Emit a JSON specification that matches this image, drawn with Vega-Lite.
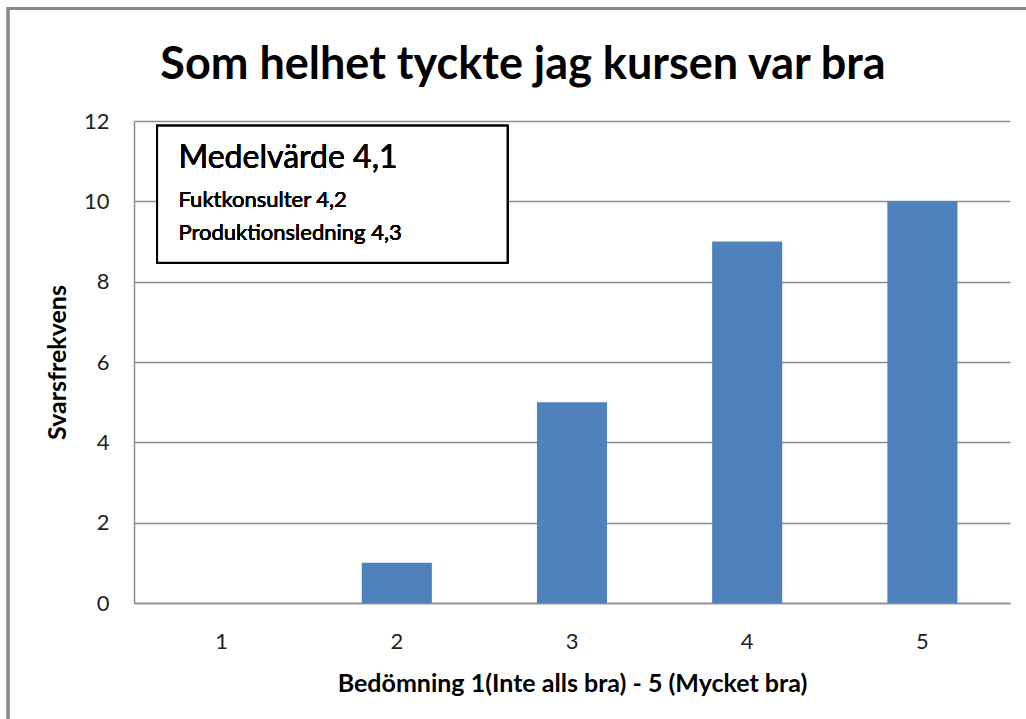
{
  "$schema": "https://vega.github.io/schema/vega-lite/v6.json",
  "width": 876,
  "height": 482,
  "autosize": {"type": "none"},
  "padding": {"left": 134, "top": 121, "right": 16, "bottom": 116},
  "background": "white",
  "config": {
    "font": "Lato",
    "view": {"stroke": null},
    "axis": {"labelFont": "Lato", "titleFont": "Lato"}
  },
  "title": {
    "text": "Som helhet tyckte jag kursen var bra",
    "font": "Lato",
    "fontSize": 45,
    "fontWeight": "bold",
    "color": "black",
    "anchor": "middle",
    "frame": "group",
    "dx": -49,
    "offset": -81
  },
  "data": {
    "values": [
      {"betyg": "1", "antal": 0},
      {"betyg": "2", "antal": 1},
      {"betyg": "3", "antal": 5},
      {"betyg": "4", "antal": 9},
      {"betyg": "5", "antal": 10}
    ]
  },
  "layer": [
    {
      "mark": {"type": "rect", "fill": null, "stroke": "#888888", "strokeWidth": 2.5},
      "encoding": {
        "x": {"datum": -0.219, "type": "quantitative", "scale": {"domain": [0.5, 5.5], "nice": false, "zero": false}, "axis": null},
        "x2": {"datum": 5.67},
        "y": {"datum": 14.81, "type": "quantitative"},
        "y2": {"datum": -3.16}
      }
    },
    {
      "mark": {"type": "bar", "color": "#4F81BD"},
      "encoding": {
        "x": {
          "field": "betyg",
          "type": "ordinal",
          "sort": ["1", "2", "3", "4", "5"],
          "scale": {"paddingInner": 0.6, "paddingOuter": 0.3},
          "axis": {
            "title": "Bedömning 1(Inte alls bra) - 5 (Mycket bra)",
            "titleFontSize": 25,
            "titleFontWeight": "bold",
            "titleColor": "black",
            "titlePadding": 19,
            "labelAngle": 0,
            "labelFontSize": 22,
            "labelColor": "#222222",
            "labelPadding": 28,
            "ticks": false,
            "domainColor": "#8c8c8c",
            "domainWidth": 1.5
          }
        },
        "y": {
          "field": "antal",
          "type": "quantitative",
          "scale": {"domain": [0, 12], "nice": false},
          "axis": {
            "title": "Svarsfrekvens",
            "titleFontSize": 25,
            "titleFontWeight": "bold",
            "titleColor": "black",
            "titlePadding": 13,
            "values": [0, 2, 4, 6, 8, 10, 12],
            "labelFontSize": 22,
            "labelColor": "#222222",
            "labelPadding": 25,
            "ticks": false,
            "domainColor": "#8c8c8c",
            "domainWidth": 1.5,
            "grid": true,
            "gridColor": "#8c8c8c",
            "gridWidth": 1.5
          }
        }
      }
    },
    {
      "mark": {"type": "rect", "fill": "white", "stroke": "black", "strokeWidth": 2},
      "encoding": {
        "x": {"datum": 0.632, "type": "quantitative", "scale": {"domain": [0.5, 5.5], "nice": false, "zero": false}, "axis": null},
        "x2": {"datum": 2.632},
        "y": {"datum": 11.88, "type": "quantitative"},
        "y2": {"datum": 8.47}
      }
    },
    {
      "mark": {"type": "text", "align": "left", "baseline": "alphabetic", "fontSize": 32, "fontWeight": "normal", "color": "black"},
      "encoding": {
        "x": {"datum": 0.754, "type": "quantitative", "scale": {"domain": [0.5, 5.5], "nice": false, "zero": false}, "axis": null},
        "y": {"datum": 10.82, "type": "quantitative"},
        "text": {"value": "Medelvärde 4,1"}
      }
    },
    {
      "mark": {"type": "text", "align": "left", "baseline": "alphabetic", "fontSize": 22, "fontWeight": "normal", "color": "black"},
      "encoding": {
        "x": {"datum": 0.754, "type": "quantitative", "scale": {"domain": [0.5, 5.5], "nice": false, "zero": false}, "axis": null},
        "y": {"datum": 9.86, "type": "quantitative"},
        "text": {"value": "Fuktkonsulter 4,2"}
      }
    },
    {
      "mark": {"type": "text", "align": "left", "baseline": "alphabetic", "fontSize": 22, "fontWeight": "normal", "color": "black"},
      "encoding": {
        "x": {"datum": 0.754, "type": "quantitative", "scale": {"domain": [0.5, 5.5], "nice": false, "zero": false}, "axis": null},
        "y": {"datum": 9.03, "type": "quantitative"},
        "text": {"value": "Produktionsledning 4,3"}
      }
    }
  ],
  "resolve": {"scale": {"x": "independent"}}
}
